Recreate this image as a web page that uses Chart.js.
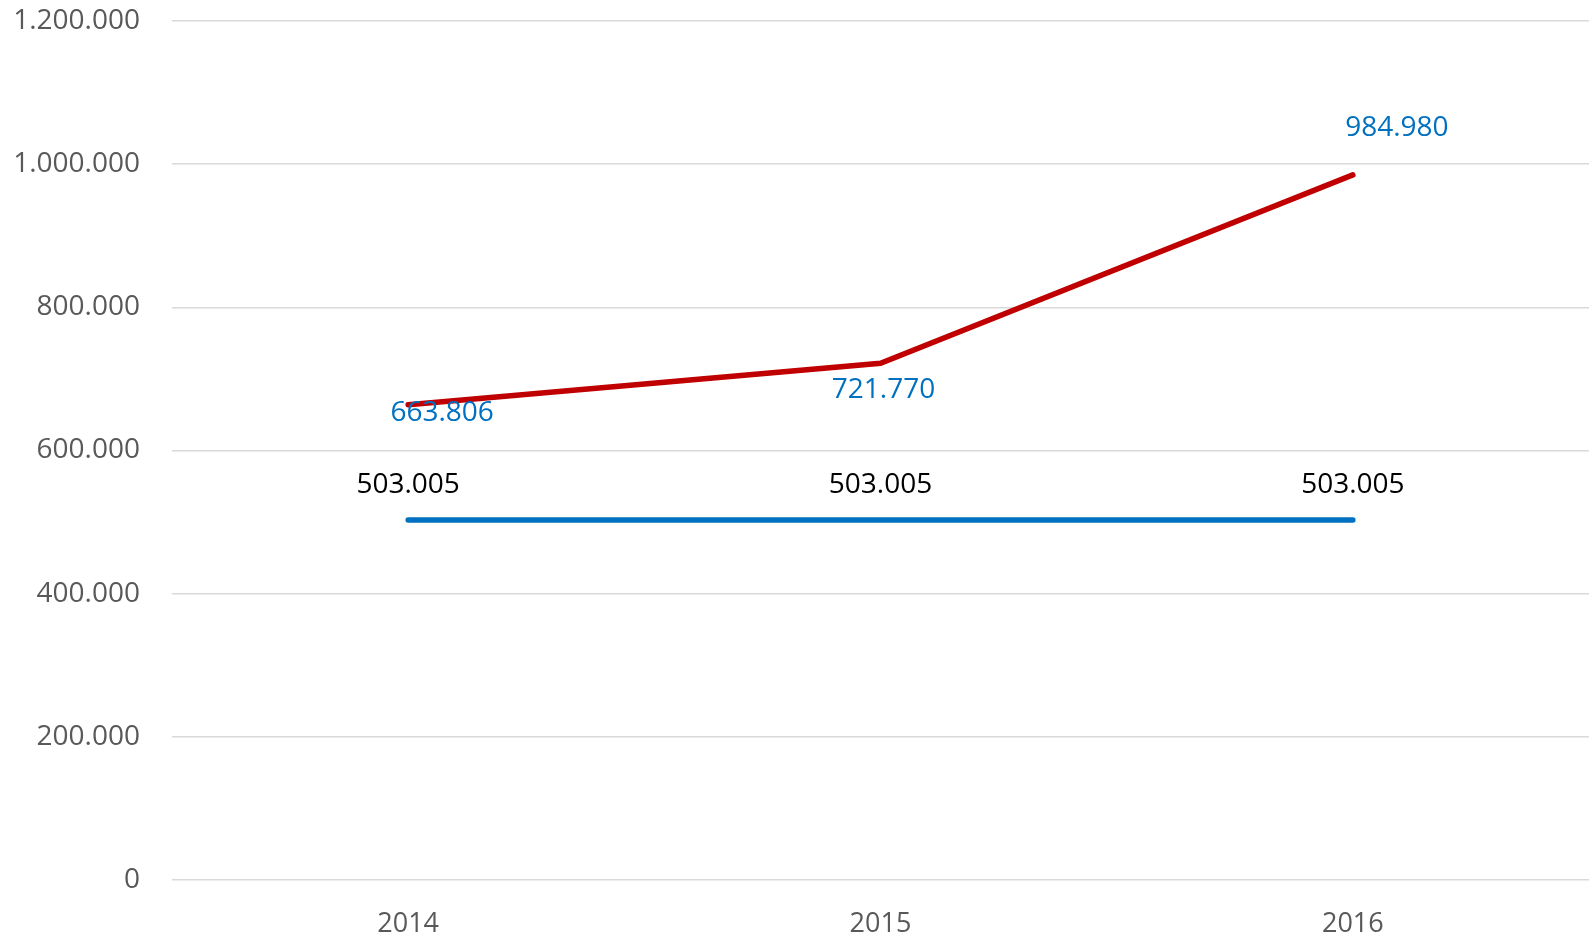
<!DOCTYPE html>
<html>
<head>
<meta charset="utf-8">
<script src="https://cdn.jsdelivr.net/npm/chart.js@4/dist/chart.umd.min.js"></script>
<style>
  html, body { margin: 0; padding: 0; background: #fff; }
  #wrap { width: 1589px; height: 940px; }
</style>
</head>
<body>
<div id="wrap"><canvas id="lineChart"></canvas></div>
<script>
// data
const years = ['2014', '2015', '2016'];
const totalValues = [663806, 721770, 984980];
const baseValues = [503005, 503005, 503005];
const yTicks = [0, 200000, 400000, 600000, 800000, 1000000, 1200000];

// label nudges (px) so they sit like the original
const totalLabelShift = [[34, 8], [3, 27], [44, -47]];
const baseLabelShift = [[0, -35], [0, -35], [0, -35]];

const FONT = '"Open Sans", "Noto Sans", sans-serif';

// dots as thousand separators
const fmt = (v) => String(Math.round(v)).replace(/\B(?=(\d{3})+(?!\d))/g, '.');

// draws value labels next to each point
const pointLabels = {
  id: 'pointLabels',
  afterDatasetsDraw(chart) {
    const ctx = chart.ctx;
    ctx.save();
    ctx.font = '28px ' + FONT;
    ctx.textAlign = 'center';
    ctx.textBaseline = 'middle';
    chart.data.datasets.forEach((ds, i) => {
      const meta = chart.getDatasetMeta(i);
      meta.data.forEach((pt, j) => {
        const shift = ds.labelShift[j];
        ctx.fillStyle = ds.labelColor;
        ctx.fillText(fmt(ds.data[j]), pt.x + shift[0], pt.y + shift[1]);
      });
    });
    ctx.restore();
  }
};

const data = {
  labels: years,
  datasets: [
    {
      label: 'Total',
      data: totalValues,
      borderColor: '#C00000',
      backgroundColor: '#C00000',
      borderWidth: 5.5,
      borderCapStyle: 'round',
      pointRadius: 0,
      tension: 0,
      labelColor: '#0070C0',
      labelShift: totalLabelShift
    },
    {
      label: 'Base',
      data: baseValues,
      borderColor: '#0070C0',
      backgroundColor: '#0070C0',
      borderWidth: 5.5,
      borderCapStyle: 'round',
      pointRadius: 0,
      tension: 0,
      labelColor: '#000000',
      labelShift: baseLabelShift
    }
  ]
};

const config = {
  type: 'line',
  data,
  plugins: [pointLabels],
  options: {
    responsive: true,
    maintainAspectRatio: false,
    animation: false,
    layout: { padding: 0 },
    plugins: {
      legend: { display: false },
      tooltip: { enabled: false }
    },
    scales: {
      x: {
        offset: true,
        border: { display: false },
        grid: { display: false, drawTicks: false },
        ticks: {
          color: '#595959',
          font: { family: FONT, size: 27 },
          padding: 28
        },
        afterFit: (scale) => { scale.height = 60; }
      },
      y: {
        min: 0,
        max: 1200000,
        border: { display: false },
        grid: { color: '#D9D9D9', lineWidth: 1.5, drawTicks: false },
        afterBuildTicks: (scale) => { scale.ticks = yTicks.map(v => ({ value: v })); },
        ticks: {
          color: '#595959',
          font: { family: FONT, size: 28 },
          padding: 32,
          callback: (v) => fmt(v)
        },
        afterFit: (scale) => {
          scale.width = 172;
          scale.paddingTop = 21;
        }
      }
    }
  }
};

const lineChart = new Chart(document.getElementById('lineChart'), config);
</script>
</body>
</html>
